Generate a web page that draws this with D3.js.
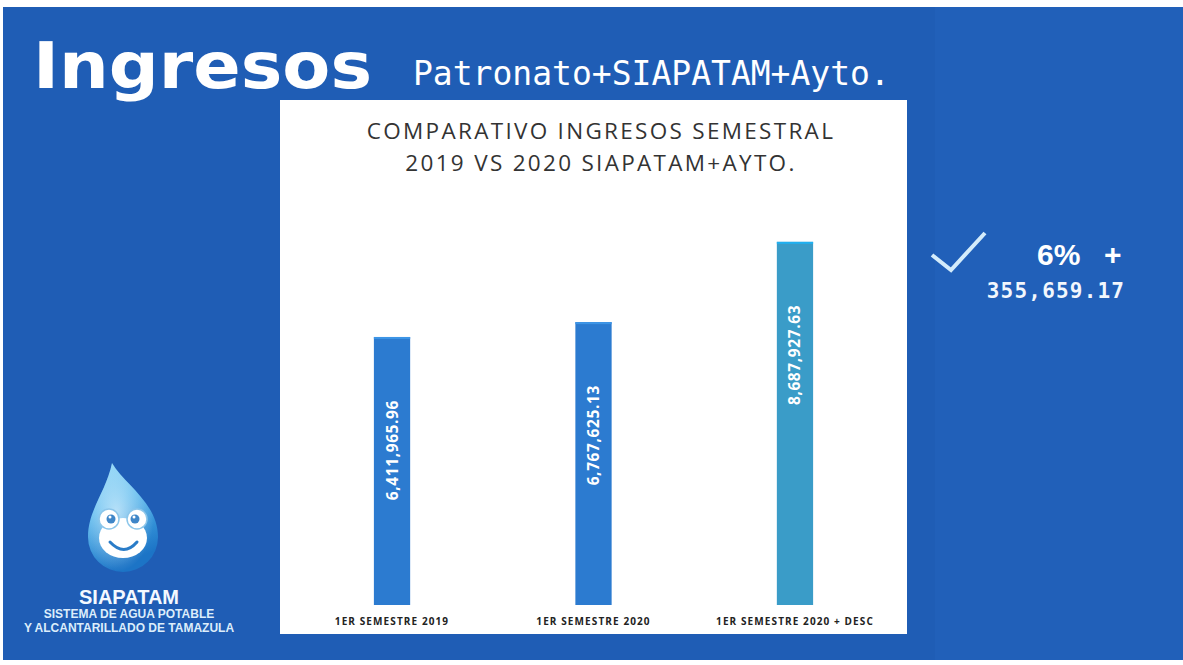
<!DOCTYPE html>
<html>
<head>
<meta charset="utf-8">
<script src="https://cdn.jsdelivr.net/npm/d3@7/dist/d3.min.js"></script>
<style>
    body { margin: 0; background: #ffffff; }
    svg { display: block; }
</style>
</head>
<body>
<div id="slide"></div>
<script>
// values
const categories = ["1ER SEMESTRE 2019", "1ER SEMESTRE 2020", "1ER SEMESTRE 2020 + DESC"];
const ingresos = [6411965.96, 6767625.13, 8687927.63];
const barColors = ["#2c7bd0", "#2c7bd0", "#3a9cc8"];
const titleLines = ["COMPARATIVO INGRESOS SEMESTRAL", "2019 VS 2020 SIAPATAM+AYTO."];
const diffPct = "6%";
const diffAmount = "355,659.17";

const ctx = {
    w: 1183, h: 665,
    bg: {x: 3, y: 7, w: 1180, h: 653},
    panel: {x: 280, y: 100, w: 627, h: 534},
    baseline: 605,
    yTop: 187,
    yMax: 10000000,
    labelOffset: 63,
    blue: "#1f5db5"
}

function createSlide() {
    let svgEl = d3.select("#slide").append("svg")
        .attr("width", ctx.w)
        .attr("height", ctx.h);

    svgEl.append("rect")
        .attr("x", ctx.bg.x).attr("y", ctx.bg.y)
        .attr("width", ctx.bg.w).attr("height", ctx.bg.h)
        .attr("fill", ctx.blue);
    // slightly lighter right part of the scan
    svgEl.append("rect")
        .attr("x", 935).attr("y", ctx.bg.y)
        .attr("width", ctx.w - 935).attr("height", ctx.bg.h)
        .attr("fill", "#2160b9");

    drawHeader(svgEl);
    drawChart(svgEl);
    drawSummary(svgEl);
    drawLogo(svgEl);
}

function drawHeader(svgEl) {
    svgEl.append("text")
        .attr("x", 33)
        .attr("y", 88)
        .attr("textLength", 339)
        .attr("lengthAdjust", "spacingAndGlyphs")
        .style("font-family", "DejaVu Sans")
        .style("font-weight", "bold")
        .style("font-size", "64px")
        .style("fill", "#ffffff")
        .text("Ingresos");

    svgEl.append("text")
        .attr("x", 413)
        .attr("y", 85)
        .style("font-family", "DejaVu Sans Mono")
        .style("font-size", "33px")
        .style("fill", "#ffffff")
        .text("Patronato+SIAPATAM+Ayto.");
}

function drawChart(svgEl) {
    let p = ctx.panel;
    svgEl.append("rect")
        .attr("x", p.x).attr("y", p.y)
        .attr("width", p.w).attr("height", p.h)
        .attr("fill", "#ffffff");

    let chartG = svgEl.append("g").attr("id", "chartG");

    // title
    chartG.selectAll("text.title")
        .data(titleLines)
        .enter()
        .append("text")
        .attr("class", "title")
        .attr("x", 601)
        .attr("y", (d, i) => 139 + i * 32)
        .attr("text-anchor", "middle")
        .style("font-family", "Open Sans")
        .style("font-size", "22.5px")
        .style("letter-spacing", "2.3px")
        .style("fill", "#333333")
        .text(d => d);

    let x = d3.scaleBand()
        .domain(categories)
        .range([p.x, p.x + p.w])
        .paddingInner(0.82)
        .paddingOuter(0.466);

    let y = d3.scaleLinear()
        .domain([0, ctx.yMax])
        .range([ctx.baseline, ctx.yTop]);

    let data = categories.map((c, i) => ({cat: c, value: ingresos[i], color: barColors[i]}));

    // bars
    chartG.selectAll("rect.bar")
        .data(data)
        .enter()
        .append("rect")
        .attr("class", "bar")
        .attr("x", d => x(d.cat))
        .attr("y", d => y(d.value))
        .attr("width", x.bandwidth())
        .attr("height", d => y(0) - y(d.value))
        .attr("fill", d => d.color);

    // light top edge on each bar
    chartG.selectAll("rect.edge")
        .data(data)
        .enter()
        .append("rect")
        .attr("class", "edge")
        .attr("x", d => x(d.cat))
        .attr("y", d => y(d.value))
        .attr("width", x.bandwidth())
        .attr("height", 2)
        .attr("fill", (d, i) => i === 2 ? "#20b0f0" : "#3d95e6");

    // value labels, rotated inside bars
    chartG.selectAll("text.value")
        .data(data)
        .enter()
        .append("text")
        .attr("class", "value")
        .attr("transform", d => "translate(" + (x(d.cat) + x.bandwidth() / 2 + 5.5) + "," + (y(d.value) + ctx.labelOffset) + ") rotate(-90)")
        .attr("text-anchor", "end")
        .style("font-family", "Open Sans")
        .style("font-weight", "bold")
        .style("font-size", "15.5px")
        .style("letter-spacing", "0.6px")
        .style("fill", "#ffffff")
        .text(d => d3.format(",.2f")(d.value));

    // category labels
    chartG.selectAll("text.cat")
        .data(data)
        .enter()
        .append("text")
        .attr("class", "cat")
        .attr("x", d => x(d.cat) + x.bandwidth() / 2)
        .attr("y", 625)
        .attr("text-anchor", "middle")
        .style("font-family", "Open Sans")
        .style("font-weight", "bold")
        .style("font-size", "10px")
        .style("letter-spacing", "1.1px")
        .style("fill", "#222222")
        .text(d => d.cat);
}

function drawSummary(svgEl) {
    svgEl.append("polyline")
        .attr("points", "932,255 951,270 985,233")
        .attr("fill", "none")
        .attr("stroke", "#d4ecfb")
        .attr("stroke-width", 4);

    svgEl.append("text")
        .attr("x", 1037)
        .attr("y", 265)
        .style("font-family", "Liberation Sans")
        .style("font-weight", "bold")
        .style("font-size", "30px")
        .style("fill", "#ffffff")
        .text(diffPct);

    svgEl.append("text")
        .attr("x", 1104)
        .attr("y", 265)
        .style("font-family", "Liberation Sans")
        .style("font-weight", "bold")
        .style("font-size", "30px")
        .style("fill", "#ffffff")
        .text("+");

    svgEl.append("text")
        .attr("x", 1056)
        .attr("y", 298)
        .attr("text-anchor", "middle")
        .style("font-family", "DejaVu Sans Mono")
        .style("font-weight", "bold")
        .style("font-size", "21px")
        .style("letter-spacing", "1.2px")
        .style("fill", "#f2f7fd")
        .text(diffAmount);
}

function drawLogo(svgEl) {
    let defs = svgEl.append("defs");
    let grad = defs.append("linearGradient")
        .attr("id", "drop-gradient")
        .attr("x1", 0).attr("y1", 0)
        .attr("x2", 0.3).attr("y2", 1);
    grad.append("stop").attr("offset", "0%").attr("stop-color", "#9bdcf8");
    grad.append("stop").attr("offset", "45%").attr("stop-color", "#4fb4ec");
    grad.append("stop").attr("offset", "100%").attr("stop-color", "#1c74c6");

    let glow = defs.append("radialGradient")
        .attr("id", "drop-glow")
        .attr("cx", 0.4).attr("cy", 0.45).attr("r", 0.55);
    glow.append("stop").attr("offset", "0%").attr("stop-color", "#e8f7ff").attr("stop-opacity", 0.7);
    glow.append("stop").attr("offset", "100%").attr("stop-color", "#e8f7ff").attr("stop-opacity", 0);

    let logoG = svgEl.append("g").attr("id", "logoG");
    let dropPath = "M 112 463 C 124 484, 158 503, 158 537 A 35 35 0 0 1 88 537 C 88 510, 106 492, 112 463 Z";
    logoG.append("path")
        .attr("d", dropPath)
        .attr("fill", "url(#drop-gradient)");
    logoG.append("path")
        .attr("d", dropPath)
        .attr("fill", "url(#drop-glow)");

    // frog face
    logoG.append("ellipse")
        .attr("cx", 123).attr("cy", 538)
        .attr("rx", 24).attr("ry", 20)
        .attr("fill", "#ffffff");
    [109, 137].forEach(cx => {
        logoG.append("circle")
            .attr("cx", cx).attr("cy", 519).attr("r", 10)
            .attr("fill", "#ffffff")
            .attr("stroke", "#8cc6ea")
            .attr("stroke-width", 1.5);
        logoG.append("circle")
            .attr("cx", cx + (cx < 123 ? 2 : -2)).attr("cy", 519).attr("r", 4.5)
            .attr("fill", "#3f86c8");
        logoG.append("circle")
            .attr("cx", cx + (cx < 123 ? 1 : -3)).attr("cy", 517).attr("r", 1.5)
            .attr("fill", "#ffffff");
    });
    logoG.append("path")
        .attr("d", "M 110 542 Q 124 557 137 542")
        .attr("fill", "none")
        .attr("stroke", "#2a7cc8")
        .attr("stroke-width", 3)
        .attr("stroke-linecap", "round");

    logoG.append("text")
        .attr("x", 129).attr("y", 604)
        .attr("text-anchor", "middle")
        .style("font-family", "Liberation Sans")
        .style("font-weight", "bold")
        .style("font-size", "20px")
        .style("fill", "#f4f9ff")
        .text("SIAPATAM");

    let subLines = ["SISTEMA DE AGUA POTABLE", "Y ALCANTARILLADO DE TAMAZULA"];
    logoG.selectAll("text.sub")
        .data(subLines)
        .enter()
        .append("text")
        .attr("class", "sub")
        .attr("x", 129)
        .attr("y", (d, i) => 618 + i * 14)
        .attr("text-anchor", "middle")
        .style("font-family", "Liberation Sans")
        .style("font-weight", "bold")
        .style("font-size", "12px")
        .style("fill", "#dcedfb")
        .text(d => d);
}

createSlide();
</script>
</body>
</html>
